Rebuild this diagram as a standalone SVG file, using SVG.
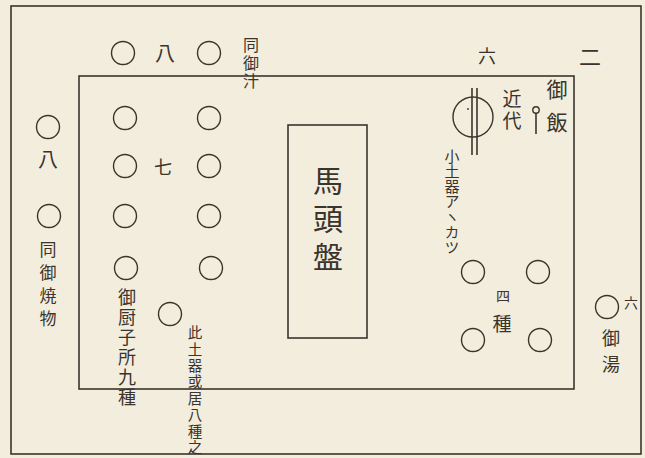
<svg xmlns="http://www.w3.org/2000/svg" width="645" height="458" viewBox="0 0 645 458">
<style>
.ln{fill:none;stroke:#3a342d;stroke-width:1.6}
.c{fill:none;stroke:#3a342d;stroke-width:1.4}
.t{font-family:"Noto Sans CJK JP","Noto Sans CJK SC",sans-serif;fill:#3a342d;text-anchor:middle;dominant-baseline:central;font-weight:400}
.v{font-family:"Noto Sans CJK JP","Noto Sans CJK SC",sans-serif;fill:#3a342d;writing-mode:vertical-rl;text-anchor:start;font-weight:400}
</style>
<rect width="645" height="458" fill="#f3eddd"/>
<g id="frame">
<rect class="ln" x="11" y="6" width="630" height="448"/>
<rect class="ln" x="79" y="76" width="495" height="313"/>
</g>
<g id="bato-ban">
<rect class="ln" x="288" y="125" width="79" height="213"/>
<text class="v" font-size="30" letter-spacing="8" x="328" y="166">馬頭盤</text>
</g>
<g id="top-row">
<circle class="c" cx="123" cy="53" r="11.5"/>
<circle class="c" cx="209" cy="53" r="11.5"/>
<text class="t" font-size="20" x="165" y="52">八</text>
<text class="v" font-size="16" letter-spacing="2" x="251" y="37">同御汁</text>
</g>
<g id="left-grid">
<circle class="c" cx="125" cy="118" r="11.5"/>
<circle class="c" cx="125" cy="166" r="11.5"/>
<circle class="c" cx="125" cy="216" r="11.5"/>
<circle class="c" cx="126" cy="268" r="11.5"/>
<circle class="c" cx="209" cy="118" r="11.5"/>
<circle class="c" cx="209" cy="166" r="11.5"/>
<circle class="c" cx="209" cy="216" r="11.5"/>
<circle class="c" cx="211" cy="268" r="11.5"/>
<circle class="c" cx="170" cy="314" r="11.5"/>
<text class="t" font-size="18" x="163" y="166">七</text>
<text class="v" font-size="18" letter-spacing="2" x="127" y="288">御厨子所九種</text>
<text class="v" font-size="14.5" letter-spacing="1.9" x="195" y="325.5">此土器或居八種之</text>
</g>
<g id="left-outside">
<circle class="c" cx="48" cy="127" r="11.5"/>
<circle class="c" cx="49" cy="216" r="11.5"/>
<text class="t" font-size="20" x="48" y="158">八</text>
<text class="v" font-size="17" letter-spacing="5.7" x="48" y="241.5">同御焼物</text>
</g>
<g id="gohan">
<text class="t" font-size="18" x="487" y="55">六</text>
<text class="t" font-size="22" x="590" y="55">二</text>
<circle class="c" cx="473" cy="117" r="20"/>
<line class="ln" x1="472" y1="88" x2="472" y2="155"/>
<line class="ln" x1="477" y1="88" x2="477" y2="155"/>
<circle cx="468" cy="109" r="0.9" fill="#3a342d"/>
<text class="v" font-size="19" letter-spacing="3" x="512" y="89.5">近代</text>
<circle class="c" cx="536" cy="110" r="3.2"/>
<line class="ln" x1="536" y1="113" x2="536" y2="134"/>
<text class="v" font-size="21" letter-spacing="12" x="557" y="78.5">御飯</text>
<text class="v" font-size="15" letter-spacing="0.2" x="452" y="148.5">小土器アヽカツ</text>
</g>
<g id="four-kinds">
<circle class="c" cx="473" cy="272" r="11.5"/>
<circle class="c" cx="538" cy="272" r="11.5"/>
<circle class="c" cx="473" cy="340" r="11.5"/>
<circle class="c" cx="540" cy="340" r="11.5"/>
<text class="t" font-size="14" x="503" y="295">四</text>
<text class="t" font-size="19" x="502" y="322">種</text>
</g>
<g id="oyu">
<circle class="c" cx="607" cy="307" r="11.5"/>
<text class="t" font-size="14" x="631" y="302">六</text>
<text class="v" font-size="18" letter-spacing="8" x="611" y="329">御湯</text>
</g>
</svg>
